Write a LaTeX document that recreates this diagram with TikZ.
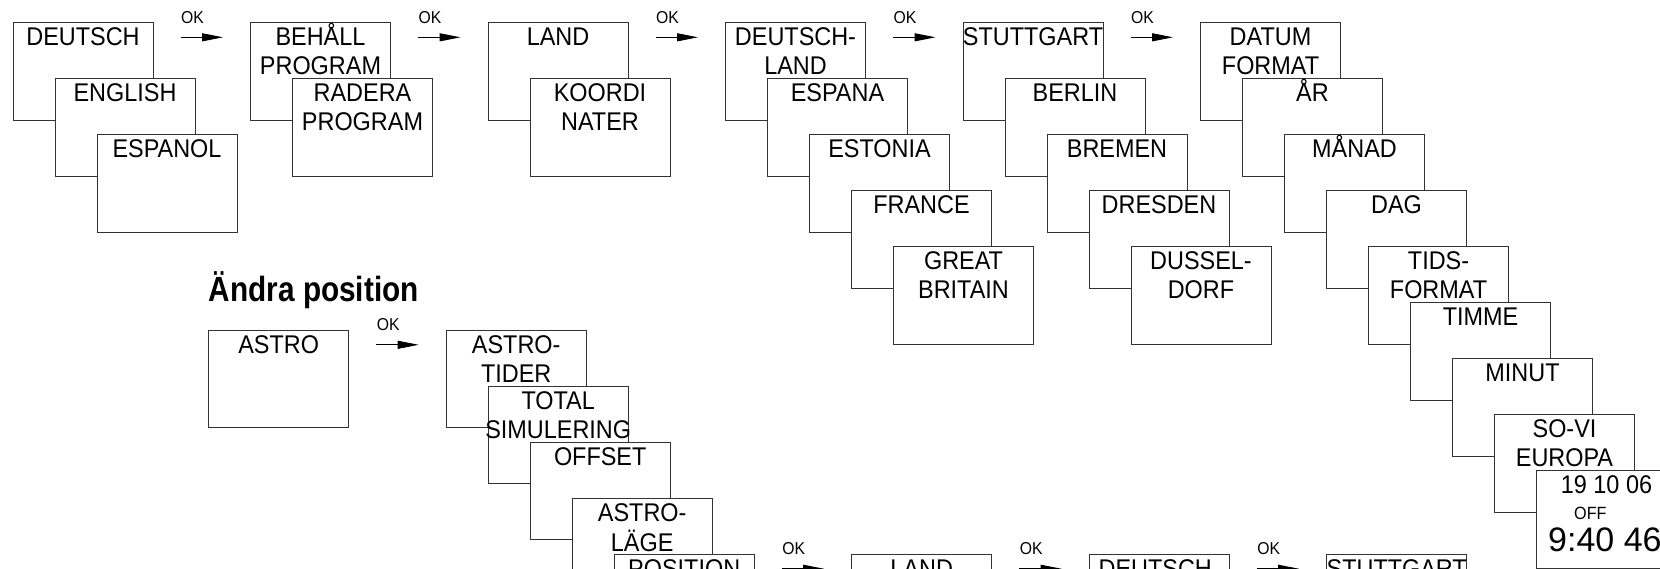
\documentclass[tikz,border=0pt]{standalone}
\usepackage{fontspec}
\setmainfont{Liberation Sans}[FakeStretch=0.915]
\newfontfamily\plainfont{Liberation Sans}
\newfontfamily\headfont{Liberation Sans Bold}[FakeStretch=0.85]
\usetikzlibrary{arrows.meta}
\tikzset{
  mbox/.style={draw=black!80, line width=1pt, fill=white, minimum width=140pt, minimum height=97.5pt, inner sep=0pt, outer sep=0pt, anchor=north west},
  mtext/.style={anchor=base, inner sep=0pt, font=\fontsize{25.6}{29}\selectfont},
  oklabel/.style={anchor=base west, inner sep=0pt, font=\fontsize{17.2}{20}\selectfont},
  okarrow/.style={line width=1pt, -{Triangle[length=21pt,width=8pt]}, shorten <=27.5pt, shorten >=27.5pt},
}
\newcommand\mbx[4]{%
  \node[mbox] (#1) at (#2,#3) {};
  \node[mtext] (#1t) at ([yshift=-23.4pt]#1.north) {\begin{tabular}[t]{@{}c@{}}#4\end{tabular}};}
\newcommand\okarr[3]{%
  \draw[okarrow] ([yshift=-14.8pt]#1.north east) -- ([yshift=-14.8pt]#2.north west);
  \node[oklabel] (#3) at ([xshift=28pt,yshift=-0.5pt]#1.north east) {OK};}
\begin{document}
\begin{tikzpicture}[x=1pt,y=-1pt]
\useasboundingbox (0,0) rectangle (1660,568);
\fill[white] (0,0) rectangle (1660,568);
% group 0
\mbx{a0}{13}{22.5}{DEUTSCH}
\mbx{a1}{55}{78.5}{ENGLISH}
\mbx{a2}{97}{134.5}{ESPANOL}
% group 1
\mbx{b0}{250.5}{22.5}{BEHÅLL\\PROGRAM}
\mbx{b1}{292.5}{78.5}{RADERA\\PROGRAM}
% group 2
\mbx{c0}{488}{22.5}{LAND}
\mbx{c1}{530}{78.5}{KOORDI\\NATER}
% group 3
\mbx{d0}{725.5}{22.5}{DEUTSCH-\\LAND}
\mbx{d1}{767.5}{78.5}{ESPANA}
\mbx{d2}{809.5}{134.5}{ESTONIA}
\mbx{d3}{851.5}{190.5}{FRANCE}
\mbx{d4}{893.5}{246.5}{GREAT\\BRITAIN}
% group 4
\mbx{e0}{963}{22.5}{STUTTGART}
\mbx{e1}{1005}{78.5}{BERLIN}
\mbx{e2}{1047}{134.5}{BREMEN}
\mbx{e3}{1089}{190.5}{DRESDEN}
\mbx{e4}{1131}{246.5}{DUSSEL-\\DORF}
% group 5
\mbx{f0}{1200.5}{22.5}{DATUM\\FORMAT}
\mbx{f1}{1242.5}{78.5}{ÅR}
\mbx{f2}{1284.5}{134.5}{MÅNAD}
\mbx{f3}{1326.5}{190.5}{DAG}
\mbx{f4}{1368.5}{246.5}{TIDS-\\FORMAT}
\mbx{f5}{1410.5}{302.5}{TIMME}
\mbx{f6}{1452.5}{358.5}{MINUT}
\mbx{f7}{1494.5}{414.5}{SO-VI\\EUROPA}
\node[mbox] (f8) at (1536.5,470.5) {};
\node[mtext] (f8a) at ([yshift=-22.6pt]f8.north) {19 10 06};
\node[anchor=base west, inner sep=0pt, font=\fontsize{17.7}{20}\selectfont] (f8b) at ([xshift=37.5pt,yshift=-48.8pt]f8.north west) {OFF};
\node[anchor=base west, inner sep=0pt, font=\plainfont\fontsize{34}{38}\selectfont] (f8c) at ([xshift=11.5pt,yshift=-81.2pt]f8.north west) {9:40 46};
% arrows top
\okarr{a0}{b0}{ok1}
\okarr{b0}{c0}{ok2}
\okarr{c0}{d0}{ok3}
\okarr{d0}{e0}{ok4}
\okarr{e0}{f0}{ok5}
% heading
\node[anchor=base west, inner sep=0pt, font=\headfont\fontsize{35}{40}\selectfont] (head) at (208.7,301.7) {Ändra position};
% bottom section
\mbx{g0}{208.7}{330}{ASTRO}
\mbx{h0}{446.2}{330}{ASTRO-\\TIDER}
\mbx{h1}{488.2}{386}{TOTAL\\SIMULERING}
\mbx{h2}{530.2}{442}{OFFSET}
\mbx{h3}{572.2}{498}{ASTRO-\\LÄGE}
\mbx{h4}{614.2}{554}{POSITION}
\mbx{i0}{851.7}{554}{LAND}
\mbx{j0}{1089.2}{554}{DEUTSCH-\\LAND}
\mbx{k0}{1326.7}{554}{STUTTGART}
\okarr{g0}{h0}{ok6}
\okarr{h4}{i0}{ok7}
\okarr{i0}{j0}{ok8}
\okarr{j0}{k0}{ok9}
\end{tikzpicture}
\end{document}
